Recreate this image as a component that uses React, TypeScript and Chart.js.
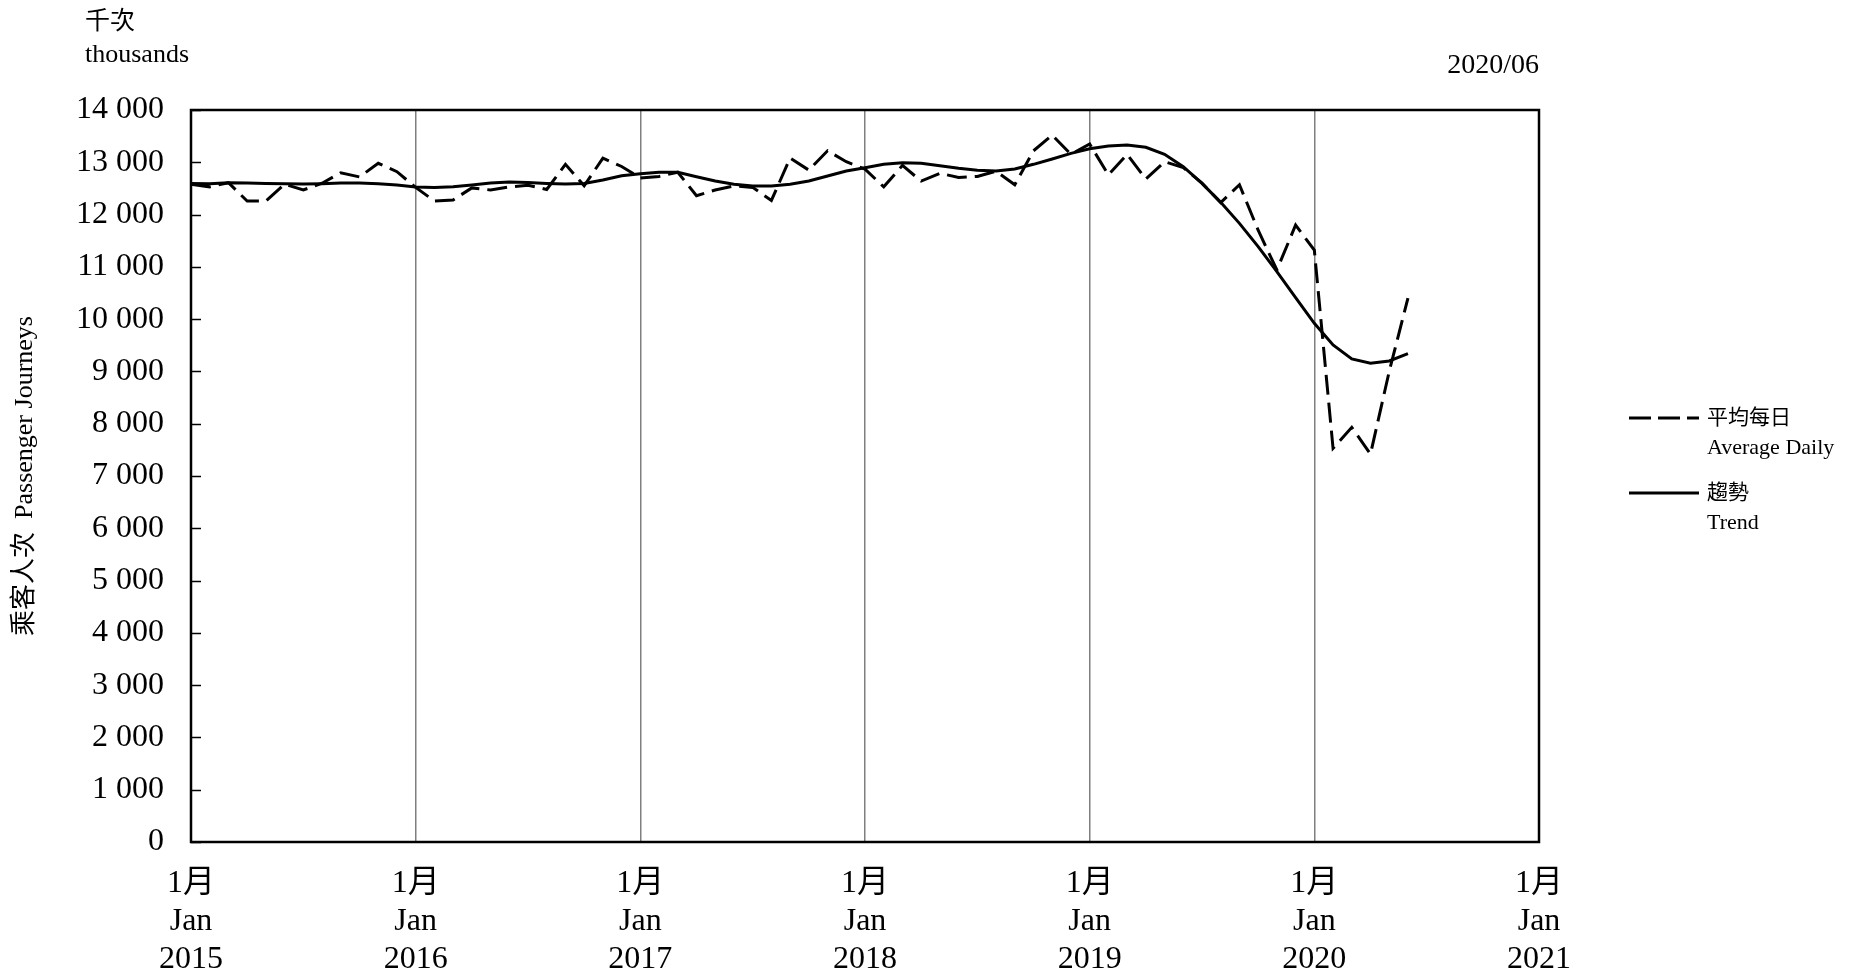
import React, { useEffect, useRef } from 'react';
import { Chart, registerables } from 'chart.js';

Chart.register(...registerables);

// ---- data ----
const years = [2015, 2016, 2017, 2018, 2019, 2020, 2021];

const averageDaily = [
  12580, 12530, 12610, 12260, 12260, 12580, 12470, 12600, 12800, 12720, 12980, 12820,
  12520, 12260, 12280, 12510, 12470, 12530, 12560, 12480, 12960, 12550, 13080, 12920,
  12700, 12730, 12810, 12360, 12470, 12550, 12520, 12270, 13080, 12850, 13220, 13010,
  12870, 12530, 12940, 12640, 12790, 12710, 12730, 12830, 12570, 13220, 13520, 13150,
  13350, 12760, 13150, 12680, 13010, 12900, 12600, 12230, 12570, 11700, 10940, 11800,
  11320, 7530, 7930, 7420, 9000, 10400,
];

const trend = [
  12596, 12590, 12609, 12603, 12596, 12590, 12583, 12590, 12603, 12603, 12590, 12564,
  12526, 12519, 12532, 12564, 12603, 12622, 12615, 12596, 12583, 12596, 12660, 12744,
  12780, 12808, 12808, 12725, 12642, 12578, 12546, 12546, 12578, 12642, 12738, 12833,
  12897, 12961, 12993, 12980, 12935, 12884, 12846, 12833, 12871, 12961, 13063, 13171,
  13260, 13311, 13330, 13286, 13152, 12916, 12597, 12234, 11832, 11386, 10908, 10411,
  9920, 9506, 9238, 9155, 9200, 9340,
];

const yMin = 0;
const yMax = 14000;
const yStep = 1000;

const monthTick = '1月';
const monthTickEn = 'Jan';

const unitZh = '千次';
const unitEn = 'thousands';
const dateLabel = '2020/06';
const yTitle = '乘客人次  Passenger Journeys';
const legendItems = [
  { zh: '平均每日', en: 'Average Daily', dashed: true },
  { zh: '趨勢', en: 'Trend', dashed: false },
];

// month categories Jan 2015 .. Jan 2021
const monthLabels: string[] = [];
years.forEach((y, yi) => {
  for (let m = 1; m <= 12; m++) {
    if (yi < years.length - 1 || m === 1) monthLabels.push(`${y}-${String(m).padStart(2, '0')}`);
  }
});

const W = 1854;
const H = 974;
const PLOT_LEFT = 191;
const PLOT_TOP = 110;
const PLOT_RIGHT = 1539;
const PLOT_BOTTOM = 842;

const SERIF = "'Liberation Serif', 'Times New Roman', 'Noto Sans CJK TC', serif";

const fmt = (v: number) => String(v).replace(/\B(?=(\d{3})+(?!\d))/g, ' ');

const framePlugin = {
  id: 'frame',
  afterDraw(chart: any) {
    const { ctx, chartArea } = chart;
    const y = chart.scales.y;
    ctx.save();
    ctx.strokeStyle = '#000';
    ctx.lineWidth = 1.5;
    y.ticks.forEach((t: any) => {
      const py = Math.round(y.getPixelForValue(t.value)) + 0.5;
      ctx.beginPath();
      ctx.moveTo(chartArea.left, py);
      ctx.lineTo(chartArea.left + 10, py);
      ctx.stroke();
    });
    ctx.lineWidth = 2.5;
    ctx.strokeRect(chartArea.left, chartArea.top, chartArea.right - chartArea.left, chartArea.bottom - chartArea.top);
    ctx.restore();
  },
};

export default function App() {
  const ref = useRef<HTMLCanvasElement | null>(null);

  useEffect(() => {
    if (!ref.current) return;
    const chart = new Chart(ref.current, {
      type: 'line',
      data: {
        labels: monthLabels,
        datasets: [
          {
            label: '平均每日 Average Daily',
            data: averageDaily,
            borderColor: '#000',
            borderWidth: 3,
            borderDash: [20, 8],
            pointRadius: 0,
            tension: 0,
            fill: false,
          },
          {
            label: '趨勢 Trend',
            data: trend,
            borderColor: '#000',
            borderWidth: 3,
            pointRadius: 0,
            tension: 0,
            fill: false,
          },
        ],
      },
      options: {
        animation: false,
        responsive: true,
        maintainAspectRatio: false,
        layout: { padding: { top: PLOT_TOP, right: W - PLOT_RIGHT, left: 0, bottom: 0 } },
        plugins: { legend: { display: false }, tooltip: { enabled: false }, title: { display: false } },
        scales: {
          x: {
            type: 'category',
            offset: false,
            border: { display: false },
            grid: {
              drawTicks: false,
              lineWidth: 1.5,
              color: '#7f7f7f',
            },
            ticks: {
              autoSkip: false,
              maxRotation: 0,
              minRotation: 0,
              padding: 22,
              color: '#000',
              font: { family: SERIF, size: 32, lineHeight: 1.2 },
              callback: (_v: any, i: number) =>
                i % 12 === 0 ? [monthTick, monthTickEn, String(years[i / 12])] : null,
            },
            afterFit: (s: any) => {
              s.height = H - PLOT_BOTTOM;
            },
          },
          y: {
            min: yMin,
            max: yMax,
            border: { display: false },
            grid: { display: false, drawTicks: false },
            ticks: {
              stepSize: yStep,
              padding: 27,
              color: '#000',
              font: { family: SERIF, size: 32 },
              callback: (v: any) => fmt(Number(v)),
            },
            title: {
              display: true,
              text: yTitle,
              color: '#000',
              padding: { top: 10, bottom: 0 },
              font: { family: SERIF, size: 26 },
            },
            afterFit: (s: any) => {
              s.width = PLOT_LEFT;
            },
          },
        },
      },
      plugins: [framePlugin],
    });
    return () => chart.destroy();
  }, []);

  const txt: React.CSSProperties = {
    position: 'absolute',
    fontFamily: SERIF,
    color: '#000',
    whiteSpace: 'nowrap',
    lineHeight: 1,
  };

  return (
    <div style={{ position: 'fixed', left: 0, top: 0, width: W, height: H, background: '#fff' }}>
      <canvas ref={ref} />
      <div style={{ ...txt, left: 85, top: 8, fontSize: 25 }}>{unitZh}</div>
      <div style={{ ...txt, left: 85, top: 41, fontSize: 26 }}>{unitEn}</div>
      <div style={{ ...txt, right: W - PLOT_RIGHT, top: 50, fontSize: 28 }}>{dateLabel}</div>
      {legendItems.map((it, k) => {
        const cy = 418 + k * 75;
        return (
          <React.Fragment key={k}>
            <svg style={{ position: 'absolute', left: 1629, top: cy - 3 }} width={72} height={6}>
              <line
                x1={0}
                y1={3}
                x2={70}
                y2={3}
                stroke="#000"
                strokeWidth={3}
                strokeDasharray={it.dashed ? '22 7' : undefined}
              />
            </svg>
            <div style={{ ...txt, left: 1707, top: cy - 11, fontSize: 21 }}>{it.zh}</div>
            <div style={{ ...txt, left: 1707, top: cy + 18, fontSize: 22 }}>{it.en}</div>
          </React.Fragment>
        );
      })}
    </div>
  );
}
